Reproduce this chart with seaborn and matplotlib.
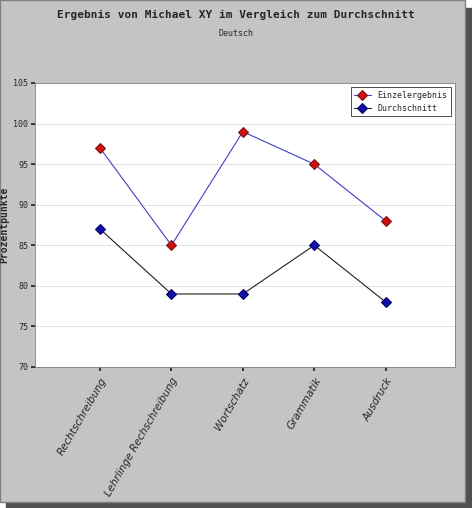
import seaborn as sns
import matplotlib.pyplot as plt
import pandas as pd

categories = ["Rechtschreibung", "Lehrlinge Rechschreibung", "Wortschatz", "Grammatik", "Ausdruck"]
einzel = [97, 85, 99, 95, 88]
schnitt = [87, 79, 79, 85, 78]

df = pd.DataFrame({"pos": range(len(categories)), "Einzelergebnis": einzel, "Durchschnitt": schnitt})

sns.set_theme(style="white")
plt.rcParams['font.family'] = ['DejaVu Sans Mono', 'DejaVu Sans']

fig = plt.figure(figsize=(4.72, 5.08), dpi=100, facecolor="white")
# shadow and panel behind the axes
fig.patches.append(plt.Rectangle((0.012, 0.0), 0.988, 0.985, transform=fig.transFigure, color="#505050", zorder=-2))
fig.patches.append(plt.Rectangle((0.0, 0.012), 0.985, 0.988, transform=fig.transFigure, facecolor="#c4c4c4", edgecolor="#808080", zorder=-1))

ax = fig.add_axes([35/472, 1-367/508, 420/472, 284/508])
ax.set_zorder(1)
ax.set_facecolor("white")
sns.lineplot(data=df, x="pos", y="Einzelergebnis", ax=ax, color="#4040c0", lw=0.8,
             marker="D", markersize=5, markerfacecolor="#cc1010", markeredgecolor="#801010", label="Einzelergebnis")
sns.lineplot(data=df, x="pos", y="Durchschnitt", ax=ax, color="#202020", lw=0.8,
             marker="D", markersize=5, markerfacecolor="#1010aa", markeredgecolor="#000060", label="Durchschnitt")

ax.set_xlim(-0.91, 4.97)
ax.set_ylim(70, 105)
ax.set_yticks(range(70, 106, 5))
ax.yaxis.grid(True, color="#dddddd", lw=0.6)
ax.set_xticks(range(len(categories)))
ax.set_xticklabels(categories, rotation=60, ha="right", rotation_mode="anchor", fontsize=7.5, family="DejaVu Sans", style="italic")
ax.tick_params(axis="y", labelsize=6, length=3, left=True, pad=2)
ax.tick_params(axis="x", length=3, bottom=True)
ax.set_xlabel("")
ax.set_ylabel("Prozentpunkte", fontsize=7, fontweight="bold", labelpad=3)
for s in ax.spines.values():
    s.set_color("#808080")
    s.set_linewidth(0.6)
leg = ax.legend(loc="upper right", fontsize=6, frameon=True, fancybox=False, edgecolor="black")
leg.get_frame().set_linewidth(0.6)

fig.text(0.5, 1-15/508, "Ergebnis von Michael XY im Vergleich zum Durchschnitt", ha="center", va="center", fontsize=8, fontweight="bold")
fig.text(0.5, 1-33/508, "Deutsch", ha="center", va="center", fontsize=6)

fig.savefig("out.png", dpi=100)
